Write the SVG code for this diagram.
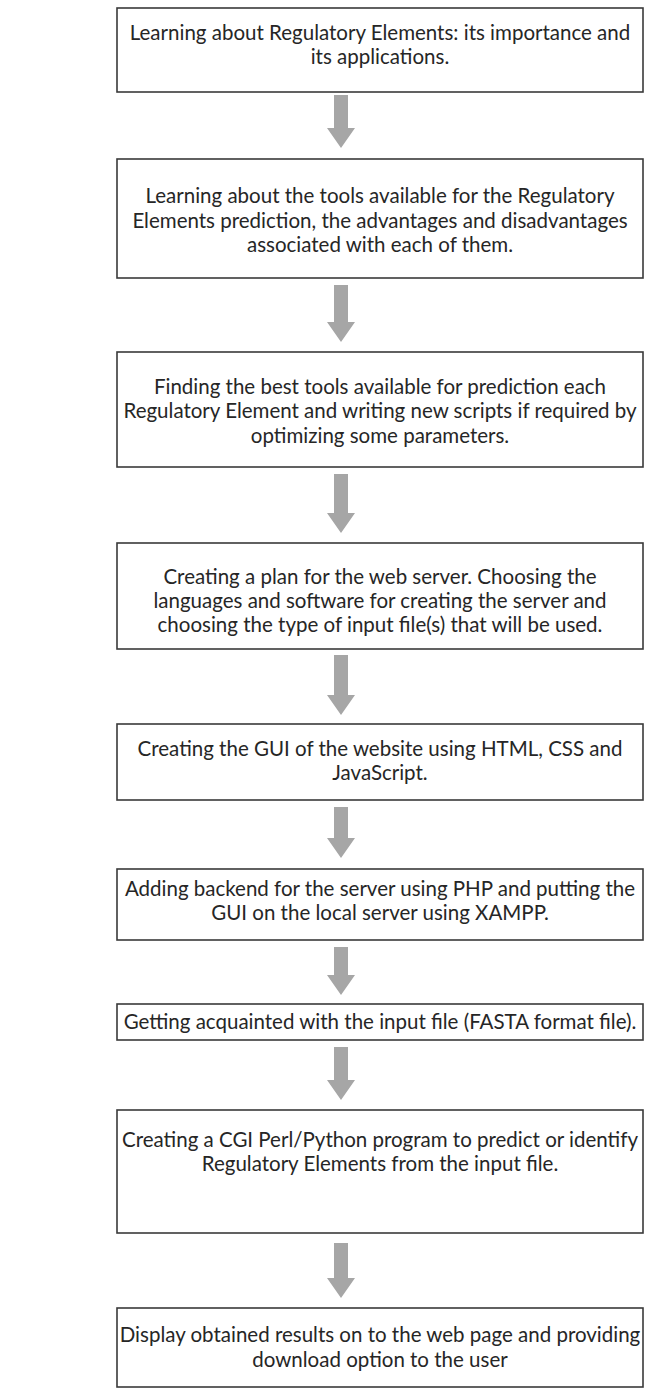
<svg xmlns="http://www.w3.org/2000/svg" width="660" height="1388" viewBox="0 0 660 1388">
<style>
.box{fill:#fff;stroke:#3a3a3a;stroke-width:1.6}
.t{font-family:Lato,"Open Sans",sans-serif;font-size:20.5px;fill:#262626;text-anchor:middle}
.arr{fill:#a6a6a6}
</style>
<rect width="660" height="1388" fill="#fff"/>
<g id="connectors">
<path class="arr" d="M334,95 H348 V128 H355 L341,148 L327,128 H334 Z"/>
<path class="arr" d="M334,285 H348 V322 H355 L341,342 L327,322 H334 Z"/>
<path class="arr" d="M334,474 H348 V513 H355 L341,533 L327,513 H334 Z"/>
<path class="arr" d="M334,655 H348 V695 H355 L341,715 L327,695 H334 Z"/>
<path class="arr" d="M334,807 H348 V838 H355 L341,858 L327,838 H334 Z"/>
<path class="arr" d="M334,947 H348 V975 H355 L341,995 L327,975 H334 Z"/>
<path class="arr" d="M334,1047 H348 V1080 H355 L341,1100 L327,1080 H334 Z"/>
<path class="arr" d="M334,1243 H348 V1278 H355 L341,1298 L327,1278 H334 Z"/>
</g>
<g id="n1"><rect class="box" x="117" y="8" width="526" height="84"/>
<text class="t" x="380" y="40">Learning about Regulatory Elements: its importance and</text>
<text class="t" x="380" y="64">its applications.</text></g>
<g id="n2"><rect class="box" x="117" y="159" width="526" height="119"/>
<text class="t" x="380" y="203">Learning about the tools available for the Regulatory</text>
<text class="t" x="380" y="227.5">Elements prediction, the advantages and disadvantages</text>
<text class="t" x="380" y="252">associated with each of them.</text></g>
<g id="n3"><rect class="box" x="117" y="352" width="526" height="115"/>
<text class="t" x="380" y="393.5">Finding the best tools available for prediction each</text>
<text class="t" x="380" y="418">Regulatory Element and writing new scripts if required by</text>
<text class="t" x="380" y="442.5">optimizing some parameters.</text></g>
<g id="n4"><rect class="box" x="117" y="543" width="526" height="106"/>
<text class="t" x="380" y="584">Creating a plan for the web server. Choosing the</text>
<text class="t" x="380" y="608">languages and software for creating the server and</text>
<text class="t" x="380" y="632">choosing the type of input file(s) that will be used.</text></g>
<g id="n5"><rect class="box" x="117" y="724" width="526" height="76"/>
<text class="t" x="380" y="756">Creating the GUI of the website using HTML, CSS and</text>
<text class="t" x="380" y="780">JavaScript.</text></g>
<g id="n6"><rect class="box" x="117" y="869" width="526" height="71"/>
<text class="t" x="380" y="896">Adding backend for the server using PHP and putting the</text>
<text class="t" x="380" y="920">GUI on the local server using XAMPP.</text></g>
<g id="n7"><rect class="box" x="117" y="1004" width="526" height="36"/>
<text class="t" x="380" y="1029">Getting acquainted with the input file (FASTA format file).</text></g>
<g id="n8"><rect class="box" x="117" y="1110" width="526" height="123"/>
<text class="t" x="380" y="1147">Creating a CGI Perl/Python program to predict or identify</text>
<text class="t" x="380" y="1171">Regulatory Elements from the input file.</text></g>
<g id="n9"><rect class="box" x="117" y="1308" width="526" height="79"/>
<text class="t" x="380" y="1342">Display obtained results on to the web page and providing</text>
<text class="t" x="380" y="1367">download option to the user</text></g>
</svg>
